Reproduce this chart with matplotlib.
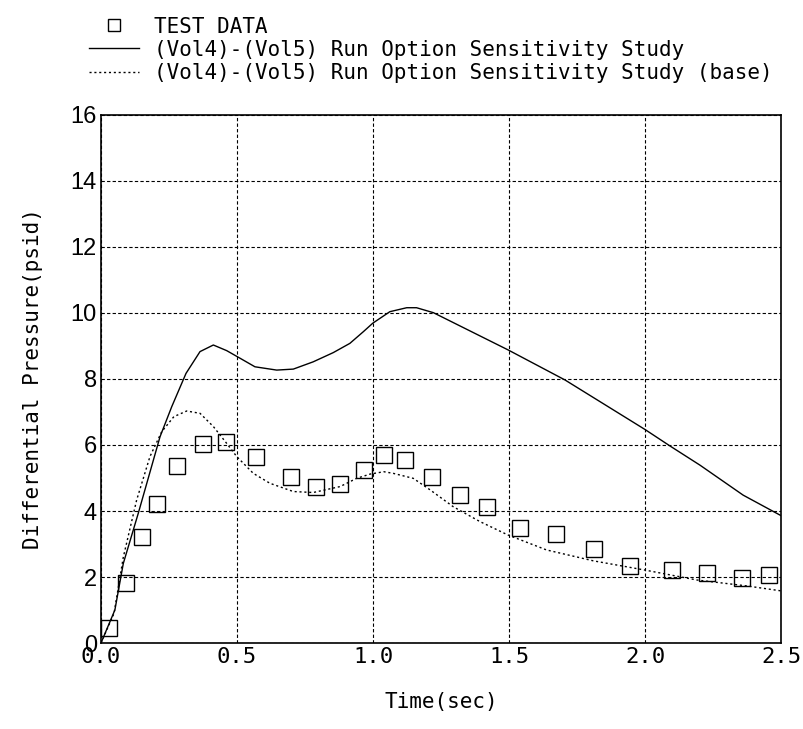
import matplotlib
matplotlib.use("Agg")
import matplotlib.pyplot as plt

# =========================
# DATA
# =========================
test_t = [0.029, 0.091, 0.15, 0.205, 0.281, 0.374, 0.46, 0.57, 0.697, 0.79, 0.88,
          0.967, 1.042, 1.119, 1.216, 1.32, 1.42, 1.54, 1.672, 1.814, 1.945,
          2.1, 2.227, 2.355, 2.457]
test_p = [0.45, 1.81, 3.22, 4.2, 5.37, 6.03, 6.1, 5.65, 5.02, 4.74, 4.82,
          5.24, 5.7, 5.55, 5.04, 4.48, 4.11, 3.5, 3.29, 2.85, 2.34,
          2.21, 2.11, 1.98, 2.06]

run_t = [0.0, 0.051, 0.082, 0.137, 0.217, 0.26, 0.3125, 0.364, 0.413, 0.462,
         0.511, 0.566, 0.646, 0.707, 0.78, 0.854, 0.915, 0.964, 0.999, 1.062,
         1.124, 1.16, 1.222, 1.497, 1.706, 2.0, 2.092, 2.202, 2.361, 2.5]
run_p = [0.0, 1.0, 2.41, 3.93, 6.25, 7.16, 8.17, 8.83, 9.03, 8.86,
         8.63, 8.37, 8.27, 8.3, 8.52, 8.8, 9.08, 9.43, 9.69, 10.04,
         10.16, 10.16, 10.01, 8.88, 7.97, 6.47, 5.97, 5.39, 4.48, 3.86]

base_t = [0.0, 0.048, 0.082, 0.131, 0.18, 0.223, 0.268, 0.315, 0.364, 0.413,
          0.462, 0.499, 0.56, 0.621, 0.707, 0.78, 0.879, 0.94, 0.99, 1.04,
          1.075, 1.148, 1.21, 1.295, 1.393, 1.497, 1.638, 1.81, 2.0, 2.19,
          2.374, 2.5]
base_p = [0.0, 0.9, 2.6, 4.33, 5.65, 6.4, 6.86, 7.03, 6.96, 6.56,
          6.05, 5.65, 5.14, 4.84, 4.59, 4.56, 4.74, 4.99, 5.12, 5.19,
          5.14, 4.99, 4.64, 4.13, 3.68, 3.27, 2.82, 2.49, 2.21, 1.91,
          1.73, 1.58]

x_ticks = [0.0, 0.5, 1.0, 1.5, 2.0, 2.5]
y_ticks = [0, 2, 4, 6, 8, 10, 12, 14, 16]

mono = "DejaVu Sans Mono"

# =========================
# PLOT
# =========================
fig = plt.figure(figsize=(8.04, 7.29), dpi=100)
ax = fig.add_axes([101 / 804, 86 / 729, 680 / 804, 528 / 729])

sq, = ax.plot(test_t, test_p, linestyle="None", marker="s", markersize=11,
              markerfacecolor="none", markeredgecolor="black", markeredgewidth=1.0,
              label="TEST DATA", clip_on=False, zorder=3)
ln1, = ax.plot(run_t, run_p, color="black", linewidth=1.0,
               label="(Vol4)-(Vol5) Run Option Sensitivity Study")
ln2, = ax.plot(base_t, base_p, color="black", linewidth=1.0, linestyle=(0, (1.5, 2)),
               label="(Vol4)-(Vol5) Run Option Sensitivity Study (base)")

ax.set_xlim(0, 2.5)
ax.set_ylim(0, 16)
ax.set_xticks(x_ticks)
ax.set_xticklabels([f"{v:.1f}" for v in x_ticks], family=mono, fontsize=16)
ax.set_yticks(y_ticks)
ax.set_yticklabels([str(v) for v in y_ticks], family="Liberation Sans", fontsize=17)
ax.tick_params(length=0, pad=3)
ax.grid(True, color="black", linestyle=(0, (3, 2)), linewidth=0.8)
for s in ax.spines.values():
    s.set_linewidth(1.2)

ax.set_xlabel("Time(sec)", family=mono, fontsize=15, labelpad=18)
ax.set_ylabel("Differential Pressure(psid)", family=mono, fontsize=15, labelpad=20)

leg = fig.legend(handles=[sq, ln1, ln2], loc="upper left", bbox_to_anchor=(72 / 804, 1.0),
                 frameon=False, prop={"family": mono, "size": 15}, handlelength=2.4,
                 handletextpad=0.75, labelspacing=0.15, borderpad=0.3, markerscale=0.85)

fig.savefig("out.png", dpi=100)
